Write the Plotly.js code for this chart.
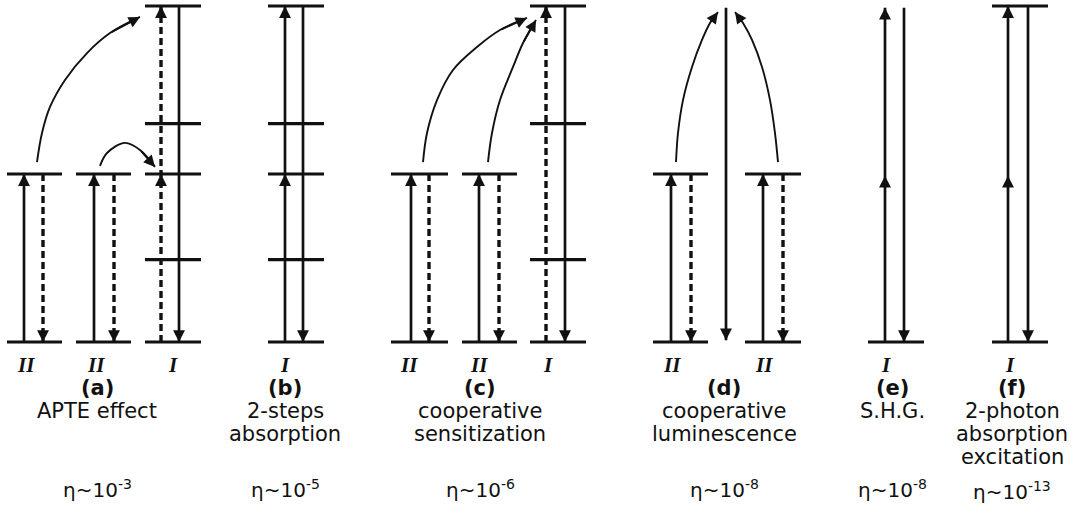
<!DOCTYPE html>
<html><head><meta charset="utf-8">
<script src="https://cdn.plot.ly/plotly-3.0.1.min.js"></script>
<style>html,body{margin:0;padding:0;background:#fff}</style>
</head><body>
<div id="chart" style="width:1092px;height:519px"></div>
<script>
// ---- energy level columns (energy units: ground = 0, ion-II excited = 1, ion-I top = 2)
const ionType   = ['II','II','I','I','II','II','I','II','II','I','I'];
const ionX0     = [7, 76, 145, 268, 391, 462, 530, 653, 745, 868, 992];
const ionX1     = [62, 131, 201, 324, 448, 517, 586, 708, 801, 924, 1048];
const ionLevels = [[0,1],[0,1],[0,0.49,1,1.3,2],[0,0.49,1,1.3,2],[0,1],[0,1],[0,0.49,1.3,2],[0,1],[0,1],[0],[0,2]];
const ionLabelX = [26, 96, 173, 285, 409, 479, 548, 672, 764, 886, 1010];

// ---- straight radiative / non-radiative transitions
const transX      = [24, 43, 94, 114, 161, 179, 285, 303, 411, 429, 479, 499, 546, 565, 671, 691, 726, 763, 783, 885, 904, 1008, 1028];
const transFrom   = [0, 1, 0, 1, 0, 2, 0, 2, 0, 1, 0, 1, 0, 2, 0, 1, 1.99, 0, 1, 0, 1.99, 0, 2];
const transTo     = [1, 0, 1, 0, 2, 0, 2, 0, 1, 0, 1, 0, 2, 0, 1, 0, 0.01, 1, 0, 1.99, 0, 2, 0];
const transDashed = [false,true,false,true,true,false,false,false,false,true,false,true,true,false,false,true,false,false,true,false,false,false,false];
const transMidHead= [null,null,null,null,1,null,1,null,null,null,null,null,null,null,null,null,null,null,null,0.99,null,0.99,null];

// ---- energy-transfer curves
const curveX = [
  [37, 42, 50, 65, 87, 110, 140],
  [100, 107, 125, 140, 155],
  [423, 427, 437, 453, 477, 500, 527],
  [488, 492, 500, 513, 523, 536],
  [676, 678, 683, 692, 702, 710, 718],
  [778, 775, 770, 762, 752, 743, 735]
];
const curveY = [
  [1.071, 1.244, 1.399, 1.560, 1.720, 1.839, 1.935],
  [1.048, 1.125, 1.185, 1.143, 1.042],
  [1.071, 1.244, 1.440, 1.619, 1.756, 1.857, 1.929],
  [1.071, 1.244, 1.440, 1.637, 1.780, 1.917],
  [1.071, 1.244, 1.440, 1.637, 1.798, 1.899, 1.964],
  [1.071, 1.244, 1.440, 1.637, 1.798, 1.899, 1.964]
];

// ---- panel captions
const panelLetters = ['(a)','(b)','(c)','(d)','(e)','(f)'];
const panelTitles  = [['APTE effect'],['2-steps','absorption'],['cooperative','sensitization'],['cooperative','luminescence'],['S.H.G.'],['2-photon','absorption','excitation']];
const panelExp     = ['-3','-5','-6','-8','-8','-13'];
const panelCenterX = [97, 285, 480, 724, 892, 1012];

const INK = '#111';
const H = 519;
const py = px => 1 - px / H;
const SANS = 'DejaVu Sans, Verdana, sans-serif';

const traces = [];
const annotations = [];

// levels
ionX0.forEach((x0, i) => {
  ionLevels[i].forEach(lv => {
    traces.push({x: [x0, ionX1[i]], y: [lv, lv], mode: 'lines', line: {color: INK, width: 3.2}, hoverinfo: 'skip'});
  });
});

function head(x, y, ax, ay, w, s) {
  annotations.push({x: x, y: y, ax: ax, ay: ay, xref: 'x', yref: 'y', axref: 'x', ayref: 'y',
    showarrow: true, arrowhead: 2, arrowsize: s, arrowwidth: w, arrowcolor: INK, text: '', standoff: 0, startstandoff: 0});
}

// transitions
transX.forEach((x, i) => {
  const y0 = transFrom[i], y1 = transTo[i];
  traces.push({x: [x, x], y: [y0, y1], mode: 'lines',
    line: {color: INK, width: transDashed[i] ? 3.4 : 2.7, dash: transDashed[i] ? '7px,4px' : 'solid'}, hoverinfo: 'skip'});
  const dir = y1 > y0 ? 1 : -1;
  head(x, y1, x, y1 - dir * 0.05, 2.5, 0.95);
  if (transMidHead[i] !== null) head(x, transMidHead[i], x, transMidHead[i] - dir * 0.05, 2.5, 0.95);
});

// curves
curveX.forEach((cx, i) => {
  const cy = curveY[i];
  traces.push({x: cx, y: cy, mode: 'lines', line: {color: INK, width: 1.9, shape: 'spline', smoothing: 1}, hoverinfo: 'skip'});
  const n = cx.length;
  head(cx[n-1], cy[n-1], cx[n-2], cy[n-2], 1.9, 1.2);
});

// ion labels
ionLabelX.forEach((x, i) => {
  annotations.push({x: x, y: py(365), xref: 'x', yref: 'paper', showarrow: false,
    text: '<b><i>' + ionType[i] + '</i></b>', font: {family: 'Liberation Serif, serif', size: 21, color: INK},
    xanchor: 'center', yanchor: 'middle'});
});

// captions
const rowY = [388, 411, 434, 457];
panelCenterX.forEach((x, i) => {
  annotations.push({x: x, y: py(rowY[0]), xref: 'x', yref: 'paper', showarrow: false,
    text: '<b>' + panelLetters[i] + '</b>', font: {family: SANS, size: 21, color: INK},
    xanchor: 'center', yanchor: 'middle'});
  panelTitles[i].forEach((t, k) => {
    annotations.push({x: x, y: py(rowY[k+1]), xref: 'x', yref: 'paper', showarrow: false,
      text: t, font: {family: SANS, size: 21, color: INK},
      xanchor: 'center', yanchor: 'middle'});
  });
  annotations.push({x: x, y: py(i === 5 ? 491 : 489), xref: 'x', yref: 'paper', showarrow: false,
    text: 'η~10<sup>' + panelExp[i] + '</sup>', font: {family: SANS, size: 20, color: INK},
    xanchor: 'center', yanchor: 'middle'});
});

const layout = {
  width: 1092, height: 519,
  margin: {l: 0, r: 0, t: 0, b: 0, pad: 0},
  paper_bgcolor: '#fff', plot_bgcolor: '#fff',
  showlegend: false,
  xaxis: {range: [0, 1092], visible: false, fixedrange: true},
  yaxis: {range: [(342 - 519) / 168, 342 / 168], visible: false, fixedrange: true},
  annotations: annotations
};

Plotly.newPlot('chart', traces, layout, {displayModeBar: false, staticPlot: true});
</script>
</body></html>
